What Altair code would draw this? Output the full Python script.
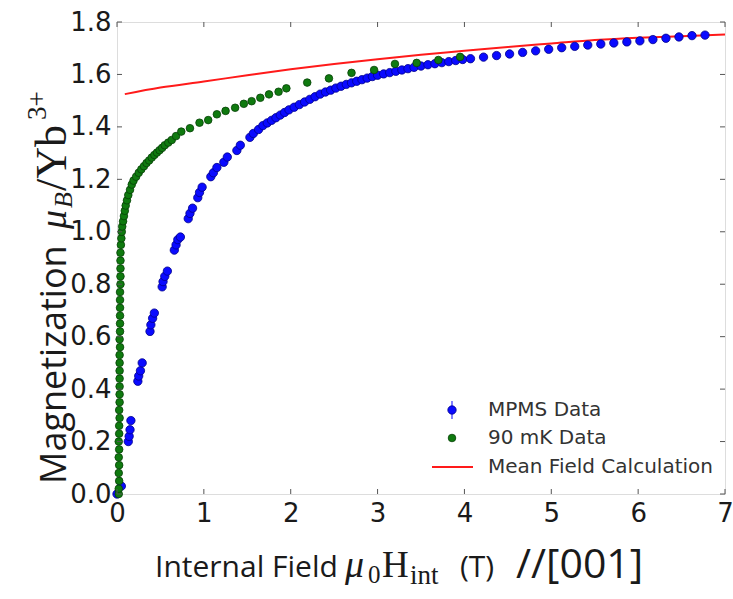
import altair as alt
import pandas as pd

# ---------------- data ----------------
mpms_h = [0.0, 0.05,
          0.13, 0.14, 0.15, 0.16,
          0.24, 0.25, 0.27, 0.29,
          0.38, 0.39, 0.41, 0.43,
          0.52, 0.53, 0.55, 0.58,
          0.66, 0.68, 0.70, 0.73,
          0.82, 0.84, 0.87,
          0.93, 0.95, 0.98,
          1.08, 1.11, 1.15,
          1.23, 1.27,
          1.38, 1.42,
          1.53, 1.57,
          1.63, 1.68, 1.73, 1.78, 1.83, 1.88, 1.93, 1.98, 2.04, 2.10,
          2.16, 2.22, 2.28, 2.34, 2.40, 2.46, 2.52, 2.58, 2.64, 2.70,
          2.76, 2.82, 2.88, 2.94, 3.00, 3.07, 3.14, 3.21, 3.28, 3.35,
          3.42, 3.50, 3.58, 3.66, 3.74, 3.82, 3.90, 3.98,
          4.07, 4.22, 4.37, 4.52, 4.67, 4.82, 4.97, 5.12, 5.27, 5.42,
          5.57, 5.72, 5.87, 6.02, 6.17, 6.32, 6.47, 6.62, 6.77]
mpms_m = [0.0, 0.03,
          0.20, 0.22, 0.245, 0.28,
          0.43, 0.45, 0.47, 0.50,
          0.62, 0.645, 0.67, 0.69,
          0.79, 0.81, 0.83, 0.85,
          0.93, 0.95, 0.97, 0.98,
          1.05, 1.07, 1.09,
          1.13, 1.15, 1.17,
          1.21, 1.225, 1.245,
          1.265, 1.285,
          1.31, 1.33,
          1.36, 1.375,
          1.39, 1.405, 1.415, 1.425, 1.435, 1.445, 1.455, 1.465, 1.475, 1.485,
          1.495, 1.505, 1.515, 1.525, 1.533, 1.54, 1.548, 1.555, 1.562, 1.568,
          1.574, 1.58, 1.586, 1.592, 1.597, 1.602, 1.607, 1.612, 1.617, 1.622,
          1.627, 1.632, 1.637, 1.641, 1.645, 1.649, 1.653, 1.657,
          1.66, 1.666, 1.672, 1.678, 1.684, 1.69, 1.696, 1.702, 1.707, 1.712,
          1.716, 1.72, 1.724, 1.728, 1.733, 1.738, 1.743, 1.748, 1.75]

mk90_h = [0.02, 0.02, 0.025, 0.02, 0.025, 0.02, 0.025, 0.02, 0.025, 0.025,
          0.03, 0.025, 0.03, 0.03, 0.03, 0.03, 0.03, 0.03, 0.03, 0.035,
          0.03, 0.035, 0.035, 0.035, 0.035, 0.035, 0.035, 0.04, 0.04, 0.04,
          0.04, 0.04, 0.045, 0.05, 0.055, 0.06, 0.07, 0.08, 0.09, 0.10,
          0.115, 0.13, 0.15, 0.17, 0.19, 0.22, 0.25, 0.28, 0.31, 0.34,
          0.37, 0.40, 0.43, 0.46, 0.49, 0.52, 0.55, 0.59, 0.63, 0.68,
          0.74, 0.84, 0.95, 1.05, 1.15, 1.25, 1.36, 1.46, 1.55, 1.65,
          1.75, 1.86, 1.95, 2.19, 2.44, 2.70, 2.96, 3.20, 3.45, 3.70, 3.95]
mk90_m = [0.0, 0.02, 0.05, 0.08, 0.11, 0.14, 0.17, 0.20, 0.23, 0.26,
          0.29, 0.32, 0.35, 0.38, 0.41, 0.44, 0.47, 0.50, 0.53, 0.56,
          0.59, 0.62, 0.65, 0.68, 0.71, 0.74, 0.77, 0.80, 0.83, 0.86,
          0.89, 0.92, 0.95, 0.975, 1.0, 1.02, 1.04, 1.06, 1.08, 1.10,
          1.12, 1.14, 1.16, 1.18, 1.195, 1.21, 1.225, 1.238, 1.25, 1.262,
          1.272, 1.283, 1.293, 1.302, 1.311, 1.32, 1.33, 1.34, 1.35, 1.365,
          1.382, 1.395, 1.416, 1.426, 1.448, 1.461, 1.473, 1.488, 1.498, 1.511,
          1.524, 1.534, 1.547, 1.569, 1.585, 1.606, 1.617, 1.64, 1.644, 1.655, 1.667]

mf_h = [0.09, 0.5, 1.0, 1.5, 2.0, 2.5, 3.0, 3.5, 4.0, 4.5, 5.0, 5.5, 6.0, 6.5, 7.0]
mf_m = [1.525, 1.55, 1.573, 1.597, 1.62, 1.64, 1.658, 1.675, 1.69, 1.705,
        1.718, 1.731, 1.740, 1.746, 1.752]

x_ticks = [0, 1, 2, 3, 4, 5, 6, 7]
y_ticks = [0.0, 0.2, 0.4, 0.6, 0.8, 1.0, 1.2, 1.4, 1.6, 1.8]
legend_labels = ["MPMS Data", "90 mK Data", "Mean Field Calculation"]

# ---------------- layout ----------------
W, H = 608, 472
PL, PT = 117, 22

df_mpms = pd.DataFrame({"h": mpms_h, "m": mpms_m})
df_90 = pd.DataFrame({"h": mk90_h, "m": mk90_m})
df_mf = pd.DataFrame({"h": mf_h, "m": mf_m})
df_xt = pd.DataFrame({"v": x_ticks})
df_yt = pd.DataFrame({"v": y_ticks})

xs = alt.Scale(domain=[0, 7], nice=False, zero=False)
ys = alt.Scale(domain=[0, 1.8], nice=False, zero=False)

x_axis = alt.Axis(values=x_ticks, format="d", ticks=False, domain=False, grid=False,
                  labelFont="DejaVu Sans", labelFontSize=26, labelColor="#1a1a1a",
                  labelPadding=6, labelFlush=False, title=None)
y_axis = alt.Axis(values=y_ticks, format=".1f", ticks=False, domain=False, grid=False,
                  labelFont="DejaVu Sans", labelFontSize=26, labelColor="#1a1a1a",
                  labelPadding=6, title=None)

red = alt.Chart(df_mf).mark_line(color="#ff1a1a", strokeWidth=2, interpolate="monotone").encode(
    x=alt.X("h:Q", scale=xs, axis=x_axis),
    y=alt.Y("m:Q", scale=ys, axis=y_axis),
)
blue = alt.Chart(df_mpms).mark_point(filled=True, shape="circle", size=70, fill="#0a0aff",
                                     stroke="#00008a", strokeWidth=0.8, opacity=1).encode(
    x=alt.X("h:Q", scale=xs), y=alt.Y("m:Q", scale=ys))
green = alt.Chart(df_90).mark_point(filled=True, shape="circle", size=58, fill="#0f7a0f",
                                    stroke="#064006", strokeWidth=0.8, opacity=1).encode(
    x=alt.X("h:Q", scale=xs), y=alt.Y("m:Q", scale=ys))

TICK = 5
tick_col = "#555555"
xt_bot = alt.Chart(df_xt).mark_rule(color=tick_col, strokeWidth=1).encode(
    x=alt.X("v:Q", scale=xs), y=alt.value(H), y2=alt.value(H - TICK))
xt_top = alt.Chart(df_xt).mark_rule(color=tick_col, strokeWidth=1).encode(
    x=alt.X("v:Q", scale=xs), y=alt.value(0), y2=alt.value(TICK))
yt_left = alt.Chart(df_yt).mark_rule(color=tick_col, strokeWidth=1).encode(
    y=alt.Y("v:Q", scale=ys), x=alt.value(0), x2=alt.value(TICK))
yt_right = alt.Chart(df_yt).mark_rule(color=tick_col, strokeWidth=1).encode(
    y=alt.Y("v:Q", scale=ys), x=alt.value(W), x2=alt.value(W - TICK))

one = pd.DataFrame({"a": [0]})


def txt(s, px, py, font, size, style="normal", angle=0, color="#1a1a1a"):
    return alt.Chart(pd.DataFrame({"t": [s]})).mark_text(
        font=font, fontSize=size, fontStyle=style, angle=angle, align="left",
        baseline="alphabetic", color=color).encode(
        text="t:N", x=alt.value(px - PL), y=alt.value(py - PT))


# legend
leg_x_mark = 452
leg_x_text = 488
leg_y = [410, 438, 467]
leg_parts = [
    alt.Chart(one).mark_rule(color="#3030ff", strokeWidth=1.2).encode(
        x=alt.value(leg_x_mark - PL), y=alt.value(leg_y[0] - 9 - PT), y2=alt.value(leg_y[0] + 9 - PT)),
    alt.Chart(one).mark_point(filled=True, shape="circle", size=70, fill="#0a0aff",
                              stroke="#00008a", strokeWidth=0.8, opacity=1).encode(
        x=alt.value(leg_x_mark - PL), y=alt.value(leg_y[0] - PT)),
    alt.Chart(one).mark_point(filled=True, shape="circle", size=58, fill="#0f7a0f",
                              stroke="#064006", strokeWidth=0.8, opacity=1).encode(
        x=alt.value(leg_x_mark - PL), y=alt.value(leg_y[1] - PT)),
    alt.Chart(one).mark_rule(color="#ff1a1a", strokeWidth=2).encode(
        x=alt.value(432 - PL), x2=alt.value(473 - PL), y=alt.value(leg_y[2] - PT)),
]
for lab, yy in zip(legend_labels, leg_y):
    leg_parts.append(alt.Chart(pd.DataFrame({"t": [lab]})).mark_text(
        font="DejaVu Sans", fontSize=20, align="left", baseline="middle", color="#333333").encode(
        text="t:N", x=alt.value(leg_x_text - PL), y=alt.value(yy - PT)))

# x title pieces
serif = "Liberation Serif"
sans = "Open Sans"
xt_parts = [
    txt("Internal Field", 155, 577, sans, 30),
    txt("\u03bc", 345, 577, serif, 38, "italic"),
    txt("0", 368, 583, serif, 25),
    txt("H", 382, 577, serif, 37),
    txt("int", 410, 584, serif, 27),
    txt("(T)", 460, 577, sans, 30),
    txt("//[001]", 516, 578, sans, 41),
]
# y title pieces (rotated, reading upward)
yt_parts = [
    txt("Magnetization", 66, 484, sans, 36, angle=270),
    txt("\u03bc", 66, 229, serif, 38, "italic", angle=270),
    txt("B", 72, 208, serif, 26, "italic", angle=270),
    txt("/Yb", 66, 191, serif, 44, angle=270),
    txt("3+", 46, 120, serif, 27, angle=270),
]

chart = alt.layer(
    red, blue, green, xt_bot, xt_top, yt_left, yt_right,
    *leg_parts, *xt_parts, *yt_parts
).properties(
    width=W, height=H,
    autosize=alt.AutoSizeParams(type="none"),
    padding={"left": PL, "top": PT, "right": 733 - PL - W, "bottom": 599 - PT - H},
).configure_view(
    stroke="#666666", strokeWidth=1.5
).configure(background="white")

chart.save("out.html", embed_options={"renderer": "svg", "actions": False})
